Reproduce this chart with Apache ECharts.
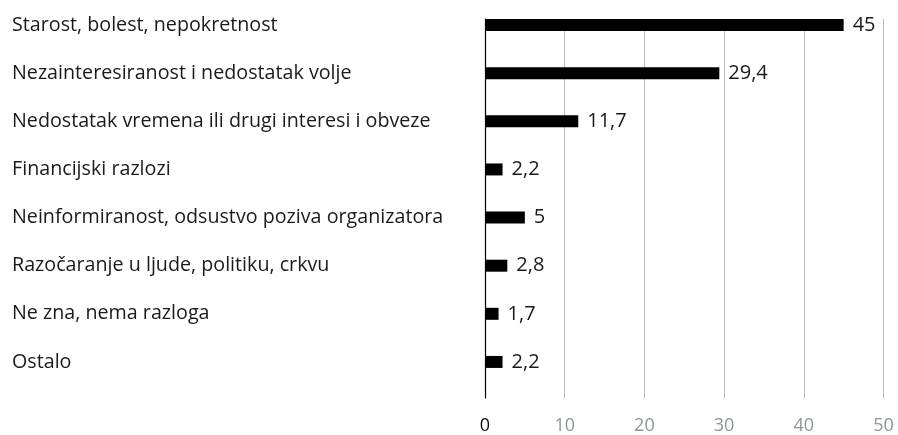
<!DOCTYPE html>
<html>
<head>
<meta charset="utf-8">
<script src="https://cdn.jsdelivr.net/npm/echarts@6/dist/echarts.min.js"></script>
<style>
  html, body { margin: 0; padding: 0; background: #fff; }
  #chart { width: 898px; height: 435px; }
</style>
</head>
<body>
<div id="chart"></div>
<script>
// 数据
var categories = [
  "Starost, bolest, nepokretnost",
  "Nezainteresiranost i nedostatak volje",
  "Nedostatak vremena ili drugi interesi i obveze",
  "Financijski razlozi",
  "Neinformiranost, odsustvo poziva organizatora",
  "Razočaranje u ljude, politiku, crkvu",
  "Ne zna, nema razloga",
  "Ostalo"
];
var values = [45, 29.4, 11.7, 2.2, 5, 2.8, 1.7, 2.2];
var xTicks = [0, 10, 20, 30, 40, 50];

var font = "'Open Sans', sans-serif";
var myChart = echarts.init(document.getElementById("chart"));

myChart.setOption({
  animation: false,
  grid: [
    // 柱子
    { left: 485, right: 14.5, top: 1, height: 385 },
    // 网格线 + 坐标轴文字
    { left: 485, right: 14.5, top: 19, bottom: 32 }
  ],
  xAxis: [
    { gridIndex: 0, type: "value", min: 0, max: 50, show: false },
    {
      gridIndex: 1,
      type: "value",
      min: xTicks[0],
      max: xTicks[xTicks.length - 1],
      interval: 10,
      axisLine: { show: false },
      axisTick: { show: false },
      splitLine: { show: true, lineStyle: { color: "#b4bac0", width: 1 } },
      axisLabel: {
        margin: 19,
        fontFamily: font,
        fontSize: 18,
        color: function (v) {
          return Number(v) === 0 ? "#111" : "#8d959c";
        }
      }
    }
  ],
  yAxis: [
    {
      gridIndex: 0,
      type: "category",
      inverse: true,
      data: categories,
      axisLine: { show: false },
      axisTick: { show: false },
      axisLabel: {
        align: "left",
        margin: 473,
        fontFamily: font,
        fontSize: 19.7,
        color: "#1a1a1a"
      }
    },
    {
      gridIndex: 1,
      type: "value",
      min: 0,
      max: 1,
      axisLine: { show: true, lineStyle: { color: "#000", width: 1.2 } },
      axisTick: { show: false },
      axisLabel: { show: false },
      splitLine: { show: false }
    }
  ],
  series: [
    {
      type: "bar",
      xAxisIndex: 0,
      yAxisIndex: 0,
      data: values,
      barWidth: 12,
      z: 5,
      itemStyle: { color: "#000" },
      label: {
        show: true,
        position: "right",
        distance: 9,
        fontFamily: font,
        fontSize: 20,
        color: "#1a1a1a",
        formatter: function (p) {
          return String(p.value).replace(".", ",");
        }
      }
    }
  ]
});
</script>
</body>
</html>
